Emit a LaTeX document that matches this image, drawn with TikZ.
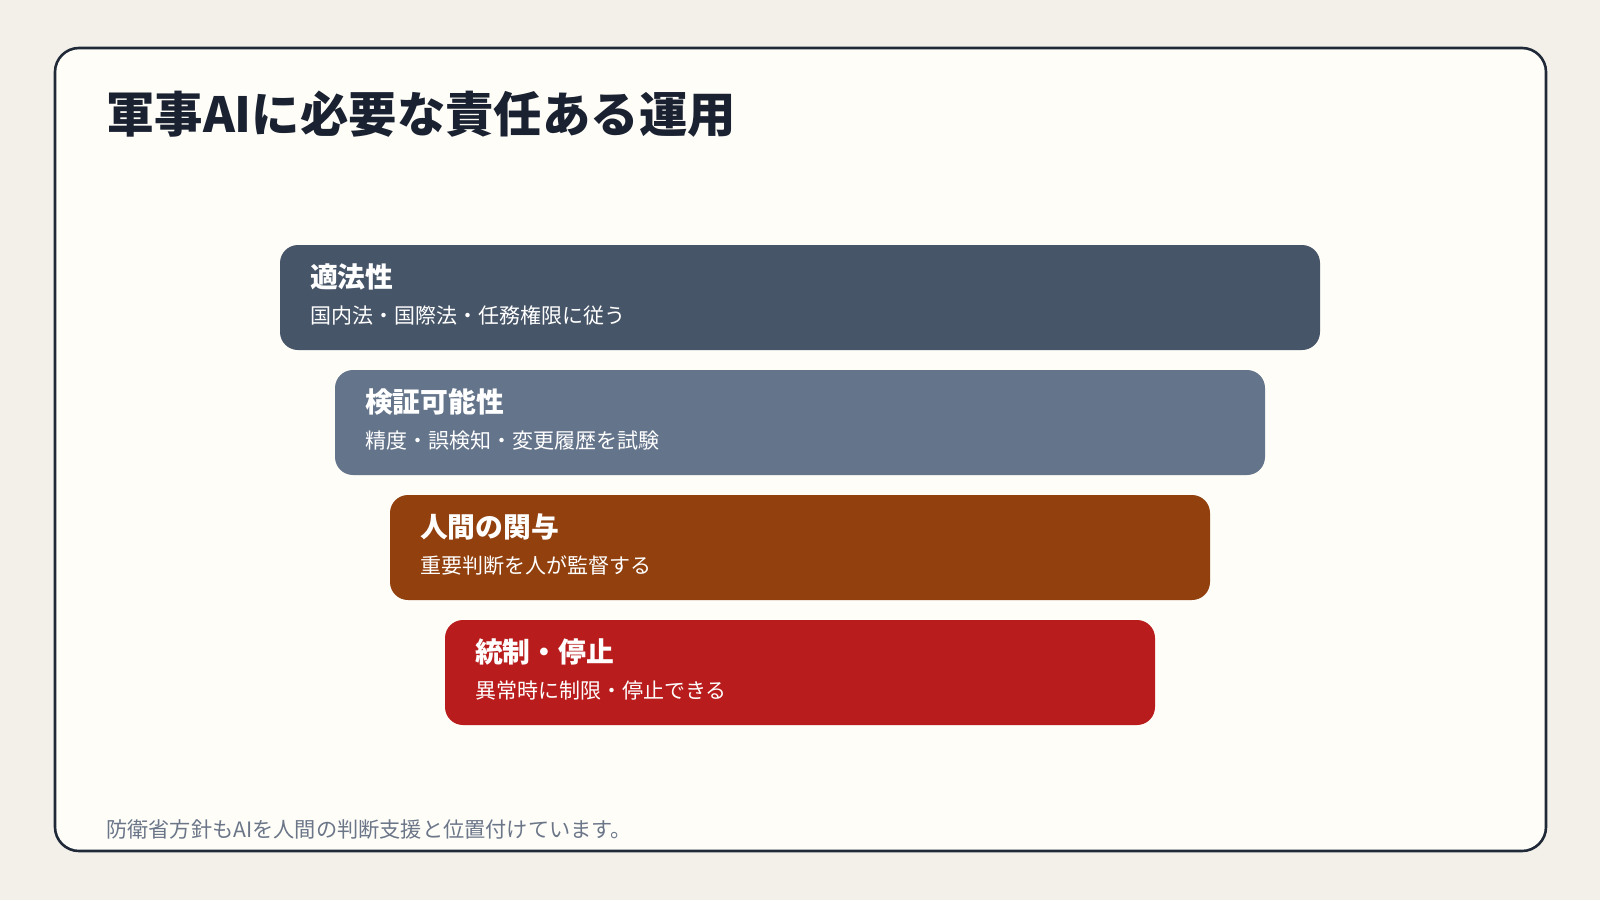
\documentclass[tikz,border=0pt]{standalone}
\usepackage{fontspec}
\setmainfont{Noto Sans CJK JP}
\usetikzlibrary{calc}
\definecolor{pagebg}{HTML}{F3EFE9}
\definecolor{cardbg}{HTML}{FEFDF8}
\definecolor{framec}{HTML}{1F2937}
\definecolor{titlec}{HTML}{1A2130}
\definecolor{footc}{HTML}{6B7689}
\definecolor{cA}{HTML}{475569}
\definecolor{cB}{HTML}{64748B}
\definecolor{cC}{HTML}{92400E}
\definecolor{cD}{HTML}{B91C1C}
\tikzset{
  layer/.style={rounded corners=18pt, inner sep=0pt, minimum height=105pt},
  layhead/.style={anchor=west, inner sep=0pt, text=white, font=\fontsize{27.8}{30}\selectfont\bfseries},
  laysub/.style={anchor=west, inner sep=0pt, text=white, font=\fontsize{21}{24}\selectfont},
}
\begin{document}
\begin{tikzpicture}[x=1pt,y=-1pt]
\fill[pagebg] (0,0) rectangle (1600,900);
\useasboundingbox (0,0) rectangle (1600,900);
\draw[framec, line width=2.6pt, fill=cardbg, rounded corners=24pt] (55,48) rectangle (1546,851);
\node[anchor=west, inner sep=0pt, text=titlec, font=\fontsize{48.4}{56}\selectfont\bfseries] (title) at (106,114) {軍事AIに必要な責任ある運用};

\node[layer, fill=cA, minimum width=1040pt] (b1) at (800,297.5) {};
\node[layer, fill=cB, minimum width=930pt] (b2) at (800,422.5) {};
\node[layer, fill=cC, minimum width=820pt] (b3) at (800,547.5) {};
\node[layer, fill=cD, minimum width=710pt] (b4) at (800,672.5) {};

\node[layhead] (h1) at ($(b1.north west)+(30,32)$) {適法性};
\node[laysub] (s1) at ($(b1.north west)+(30,71)$) {国内法・国際法・任務権限に従う};
\node[layhead] (h2) at ($(b2.north west)+(30,32)$) {検証可能性};
\node[laysub] (s2) at ($(b2.north west)+(30,71)$) {精度・誤検知・変更履歴を試験};
\node[layhead] (h3) at ($(b3.north west)+(30,32)$) {人間の関与};
\node[laysub] (s3) at ($(b3.north west)+(30,71)$) {重要判断を人が監督する};
\node[layhead] (h4) at ($(b4.north west)+(30,32)$) {統制・停止};
\node[laysub] (s4) at ($(b4.north west)+(30,71)$) {異常時に制限・停止できる};

\node[anchor=west, inner sep=0pt, text=footc, font=\fontsize{21.2}{24}\selectfont] (foot) at (106,829) {防衛省方針もAIを人間の判断支援と位置付けています。};
\end{tikzpicture}
\end{document}
